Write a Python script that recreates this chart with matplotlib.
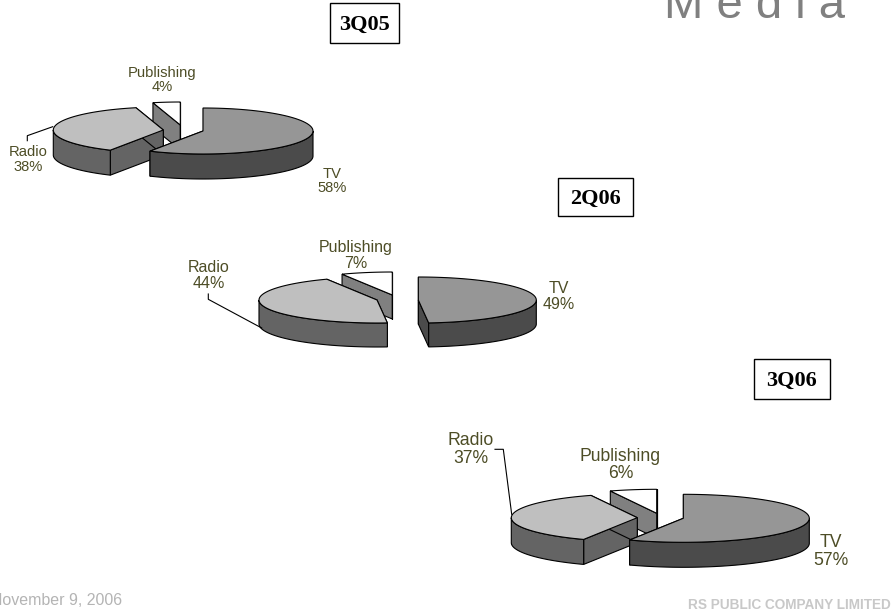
import numpy as np
import matplotlib
matplotlib.use('Agg')
import matplotlib.pyplot as plt
from matplotlib.patches import Rectangle

# Share of media revenue per quarter (%)
quarters = ['3Q05', '2Q06', '3Q06']
tv_share = [58.0, 48.6, 57.0]
radio_share = [38.0, 44.4, 37.0]
publishing_share = [4.0, 7.0, 6.0]

# Colours: top face, side face
TV_COLORS = ('#969696', '#4b4b4b')
RADIO_COLORS = ('#bfbfbf', '#646464')
PUBLISHING_COLORS = ('#ffffff', '#808080')
LABEL_COLOR = '#4d4d26'

plt.rcParams['font.family'] = ['Liberation Sans', 'DejaVu Sans']

# Figure with one axes in pixel coordinates
fig = plt.figure(figsize=(8.92, 6.12), dpi=100)
ax = fig.add_axes([0, 0, 1, 1])
ax.set_xlim(0, 892)
ax.set_ylim(612, 0)
ax.axis('off')


def ellipse_pts(cx, cy, a, b, t0, t1):
    t = np.radians(np.linspace(t0, t1, 80))
    return cx + a * np.cos(t), cy + b * np.sin(t)


def draw_slice(center, a, b, depth, start, sweep, colors):
    # angles run clockwise on screen, 12 o'clock = -90
    cx, cy = center
    t0, t1 = start, start + sweep
    ex = [cx + a * np.cos(np.radians(t0)), cx + a * np.cos(np.radians(t1))]
    ey = [cy + b * np.sin(np.radians(t0)), cy + b * np.sin(np.radians(t1))]

    # the two cut faces
    for x_end, y_end in zip(ex, ey):
        ax.fill([cx, x_end, x_end, cx],
                [cy, y_end, y_end + depth, cy + depth],
                facecolor=colors[1], edgecolor='black', linewidth=0.8)

    # front rim, only the part between 0 and 180 degrees can be seen
    r0, r1 = max(t0, 0), min(t1, 180)
    if r1 > r0:
        rx, ry = ellipse_pts(cx, cy, a, b, r0, r1)
        ax.fill(np.r_[rx, rx[::-1]], np.r_[ry, ry[::-1] + depth],
                facecolor=colors[1], edgecolor='black', linewidth=0.8)

    # top
    x, y = ellipse_pts(cx, cy, a, b, t0, t1)
    ax.fill(np.r_[cx, x], np.r_[cy, y],
            facecolor=colors[0], edgecolor='black', linewidth=0.8)


def draw_pie(i, tv_center, radio_center, pub_center, a, b, depth):
    tv_sweep = tv_share[i] * 3.6
    radio_sweep = radio_share[i] * 3.6
    pub_sweep = publishing_share[i] * 3.6
    radio_start = -90 + tv_sweep
    pub_start = radio_start + radio_sweep
    draw_slice(pub_center, a, b, depth, pub_start, pub_sweep, PUBLISHING_COLORS)
    draw_slice(radio_center, a, b, depth, radio_start, radio_sweep, RADIO_COLORS)
    draw_slice(tv_center, a, b, depth, -90, tv_sweep, TV_COLORS)


draw_pie(0, (203, 131), (163.3, 130), (180.3, 125), 110, 23, 25)
draw_pie(1, (418.3, 300), (377, 300), (392.3, 295), 118, 23, 24)
draw_pie(2, (683.3, 518.3), (637.3, 517.7), (656.7, 513.3), 126, 24, 25)


# Data labels
def label(name, value, x, y, size):
    ax.text(x, y, f'{name}\n{value:.0f}%', ha='center', va='center',
            fontsize=size, color=LABEL_COLOR, linespacing=1.05)


label('Publishing', publishing_share[0], 162, 80, 10.6)
label('Radio', radio_share[0], 28, 159.5, 10.6)
label('TV', tv_share[0], 332.5, 181, 10.6)

label('Publishing', publishing_share[1], 355.5, 255.5, 11.5)
label('Radio', radio_share[1], 208.5, 275.5, 11.5)
label('TV', tv_share[1], 559, 296.5, 11.5)

label('Publishing', publishing_share[2], 620.5, 465, 12.7)
label('Radio', radio_share[2], 471, 449.5, 12.7)
label('TV', tv_share[2], 830.5, 551.5, 12.7)

# Leader lines for the radio labels
ax.plot([52.7, 27.3, 27.3], [126.7, 135.7, 140.7], color='black', lw=0.8)
ax.plot([261.7, 208.3, 208.3], [328, 299.3, 294], color='black', lw=0.8)
ax.plot([511.7, 503.3, 495], [514.3, 449.3, 449.3], color='black', lw=0.8)

# Quarter boxes
boxes = [(329.5, 3, 69, 40), (557.5, 177.5, 75.5, 38.5), (753.5, 358.5, 76, 40)]
for quarter, (x, y, w, h) in zip(quarters, boxes):
    ax.add_patch(Rectangle((x, y), w, h, facecolor='white', edgecolor='black', linewidth=1.0))
    ax.text(x + w / 2, y + h / 2 + 2, quarter, ha='center', va='center',
            fontsize=16, fontweight='bold', family='Liberation Serif', color='black')

# Slide furniture, the reference cuts the title and the date at the page edge
ax.text(664.5, 17.5, 'M e d i a', fontsize=34, color='#808080', ha='left', va='baseline')
ax.text(-9, 605, 'November 9, 2006', fontsize=11.5, color='#b4b4b4', ha='left', va='baseline')
ax.text(890.5, 609, 'RS PUBLIC COMPANY LIMITED', fontsize=9.8, fontweight='bold',
        color='#c8c8c8', ha='right', va='baseline')

plt.savefig('out.png', dpi=100)
